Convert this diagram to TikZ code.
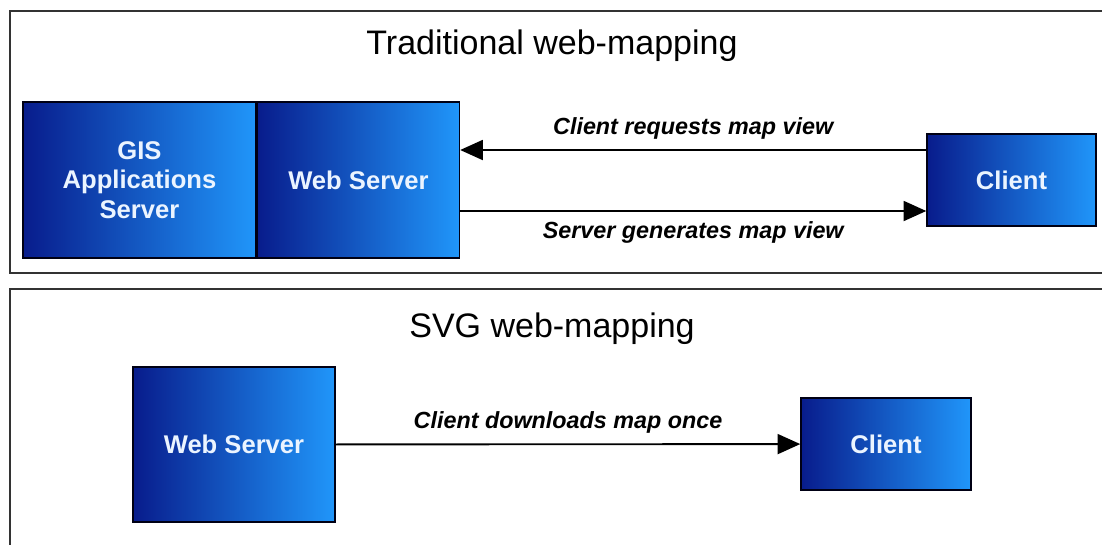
\documentclass[tikz,border=0pt]{standalone}
\usepackage{fontspec}
\setmainfont{Liberation Sans}
\usetikzlibrary{positioning,arrows.meta}
\definecolor{navy}{RGB}{8,28,140}
\definecolor{skyblue}{RGB}{32,150,250}
\definecolor{boxtext}{RGB}{235,244,255}

\begin{document}
\begin{tikzpicture}[x=0.75pt,y=-0.75pt,
    panel/.style={draw=black!80,line width=1.5pt},
    srv/.style={draw=black!92!blue,line width=1.1pt,left color=navy,right color=skyblue,
      inner sep=0pt,text=boxtext,font=\fontsize{19.2}{22}\selectfont\bfseries,align=center},
    arr/.style={line width=1.4pt,-{Triangle[length=17pt,width=15pt]}},
    lbl/.style={font=\fontsize{17.5}{20}\selectfont\bfseries\itshape},
    ttl/.style={font=\fontsize{25.5}{28}\selectfont}]
    \useasboundingbox (0,0) rectangle (1102,544);
    % the two panels
    \draw[panel] (10,11) rectangle (1120,273);
    \draw[panel] (10,289) rectangle (1120,570);
    % traditional web-mapping
    \node[ttl] (ttltrad) at (552,46) {Traditional web-mapping};
    \node[srv,minimum width=174.75pt,minimum height=117pt] (gis) at (139.5,180) {GIS\\Applications\\Server};
    \node[srv,minimum width=151.5pt,minimum height=117pt,right=0pt of gis] (web) {Web Server};
    \node[srv,minimum width=126.75pt,minimum height=69pt] (client) at (1011.5,180) {Client};
    \coordinate (req) at (0,150);
    \coordinate (gen) at (0,211);
    \draw[arr] (client.west |- req) -- node[lbl,above=4pt] {Client requests map view} (web.east |- req);
    \draw[arr] (web.east |- gen) -- node[lbl,below=4pt] {Server generates map view} (client.west |- gen);
    % SVG web-mapping
    \node[ttl] (ttlsvg) at (552,329) {SVG web-mapping};
    \node[srv,minimum width=151.5pt,minimum height=116.25pt] (web2) at (234,444.5) {Web Server};
    \node[srv,minimum width=127.5pt,minimum height=69pt] (client2) at (886,444) {Client};
    \draw[arr] (web2) -- node[lbl,above=4pt] {Client downloads map once} (client2);
\end{tikzpicture}
\end{document}
